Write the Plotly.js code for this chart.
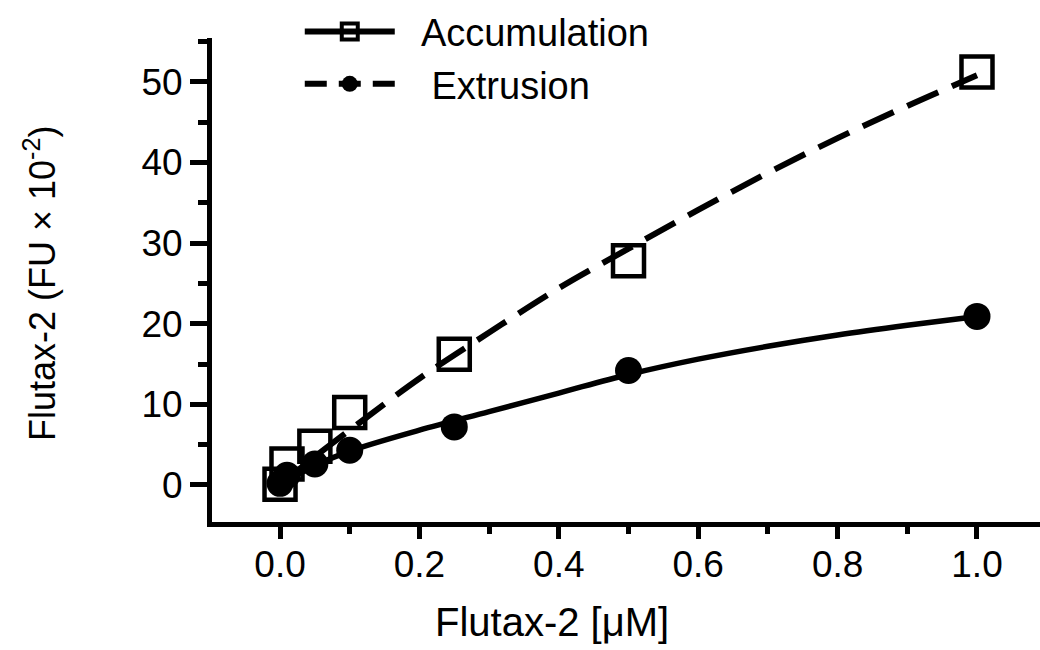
<!DOCTYPE html>
<html>
<head>
<meta charset="utf-8">
<script src="https://cdn.plot.ly/plotly-3.0.1.min.js"></script>
<style>html,body{margin:0;padding:0;background:#fff;}#chart{width:1040px;height:650px;}</style>
</head>
<body>
<div id="chart"></div>
<script>
// Measured points (Flutax-2 concentration, µM)
const conc = [0, 0.01, 0.05, 0.1, 0.25, 0.5, 1.0];
const accumulation = [0.1, 2.6, 4.8, 9.0, 16.2, 27.8, 51.2];
const extrusion = [0.2, 1.2, 2.6, 4.3, 7.2, 14.2, 20.9];
// Fitted curves
const fitX = [0, 0.05, 0.1, 0.2, 0.3, 0.4, 0.5, 0.6, 0.7, 0.8, 0.9, 1.0];
const accumulationFit = [0, 3.5, 6.8, 13.2, 18.9, 24.4, 29.3, 34.1, 38.7, 43.0, 47.0, 50.8];
const extrusionFit = [0, 2.4, 4.2, 6.8, 9.1, 11.4, 13.7, 15.6, 17.2, 18.6, 19.8, 20.9];
const legendNames = ["\u00a0\u00a0Accumulation", "\u00a0\u00a0\u00a0Extrusion"];
const xTicks = [0, 0.2, 0.4, 0.6, 0.8, 1.0];
const xTickText = ["0.0", "0.2", "0.4", "0.6", "0.8", "1.0"];
const yTicks = [0, 10, 20, 30, 40, 50];

const FONT = "Liberation Sans, Arial, sans-serif";

const traces = [
  {x: fitX, y: accumulationFit, mode: "lines", line: {color: "#000", width: 6, dash: "34px,15px", shape: "spline"}, showlegend: false, hoverinfo: "skip"},
  {x: fitX, y: extrusionFit, mode: "lines", line: {color: "#000", width: 5.5, shape: "spline"}, showlegend: false, hoverinfo: "skip"},
  {x: conc, y: accumulation, mode: "markers", marker: {symbol: "square-open", size: 31, color: "#000", line: {width: 4.5, color: "#000"}}, showlegend: false},
  {x: conc, y: extrusion, mode: "markers", marker: {symbol: "circle", size: 27, color: "#000"}, showlegend: false},
  // legend entries as drawn in the reference
  {x: [null], y: [null], name: legendNames[0], mode: "lines+markers", line: {color: "#000", width: 6}, marker: {symbol: "square-open", size: 16, color: "#000", line: {width: 4, color: "#000"}}},
  {x: [null], y: [null], name: legendNames[1], mode: "lines+markers", line: {color: "#000", width: 6, dash: "22px,12px"}, marker: {symbol: "circle", size: 16, color: "#000"}}
];

const layout = {
  width: 1040, height: 650,
  margin: {l: 212, r: 0, t: 38, b: 128, pad: 0, autoexpand: false},
  paper_bgcolor: "#fff", plot_bgcolor: "#fff",
  font: {family: FONT, color: "#000", size: 37},
  showlegend: true,
  legend: {x: 0.106, y: 1.078, xanchor: "left", yanchor: "top", bgcolor: "rgba(0,0,0,0)", borderwidth: 0,
           font: {family: FONT, size: 38, color: "#000"}, itemwidth: 90, tracegroupgap: 0},
  xaxis: {
    range: [-0.0976, 1.0904], showgrid: false, zeroline: false,
    showline: true, linecolor: "#000", linewidth: 5, mirror: false,
    tickmode: "array", tickvals: xTicks, ticktext: xTickText,
    ticks: "outside", ticklen: 12, tickwidth: 5, tickcolor: "#000",
    ticklabelstandoff: -6,
    tickfont: {family: FONT, size: 37, color: "#000"},
    minor: {dtick: 0.2, tick0: 0.1, ticks: "outside", ticklen: 7, tickwidth: 5, tickcolor: "#000", showgrid: false}
  },
  yaxis: {
    range: [-4.59, 55.42], showgrid: false, zeroline: false,
    showline: true, linecolor: "#000", linewidth: 5, mirror: false,
    tickmode: "array", tickvals: yTicks,
    ticks: "outside", ticklen: 17, tickwidth: 5, tickcolor: "#000",
    tickfont: {family: FONT, size: 37, color: "#000"},
    minor: {dtick: 10, tick0: 5, ticks: "outside", ticklen: 9, tickwidth: 5, tickcolor: "#000", showgrid: false}
  },
  annotations: [
    {text: "Flutax-2 [μM]", xref: "paper", yref: "paper", x: 0.4106, y: -0.2066, xanchor: "center", yanchor: "middle", showarrow: false, font: {family: FONT, size: 40, color: "#000"}},
    {text: "Flutax-2 (FU × 10<sup>-2</sup>)", xref: "paper", yref: "paper", x: -0.2075, y: 0.494, xanchor: "center", yanchor: "middle", textangle: -90, showarrow: false, font: {family: FONT, size: 36, color: "#000"}}
  ]
};

Plotly.newPlot("chart", traces, layout, {displayModeBar: false, staticPlot: true});
</script>
</body>
</html>
